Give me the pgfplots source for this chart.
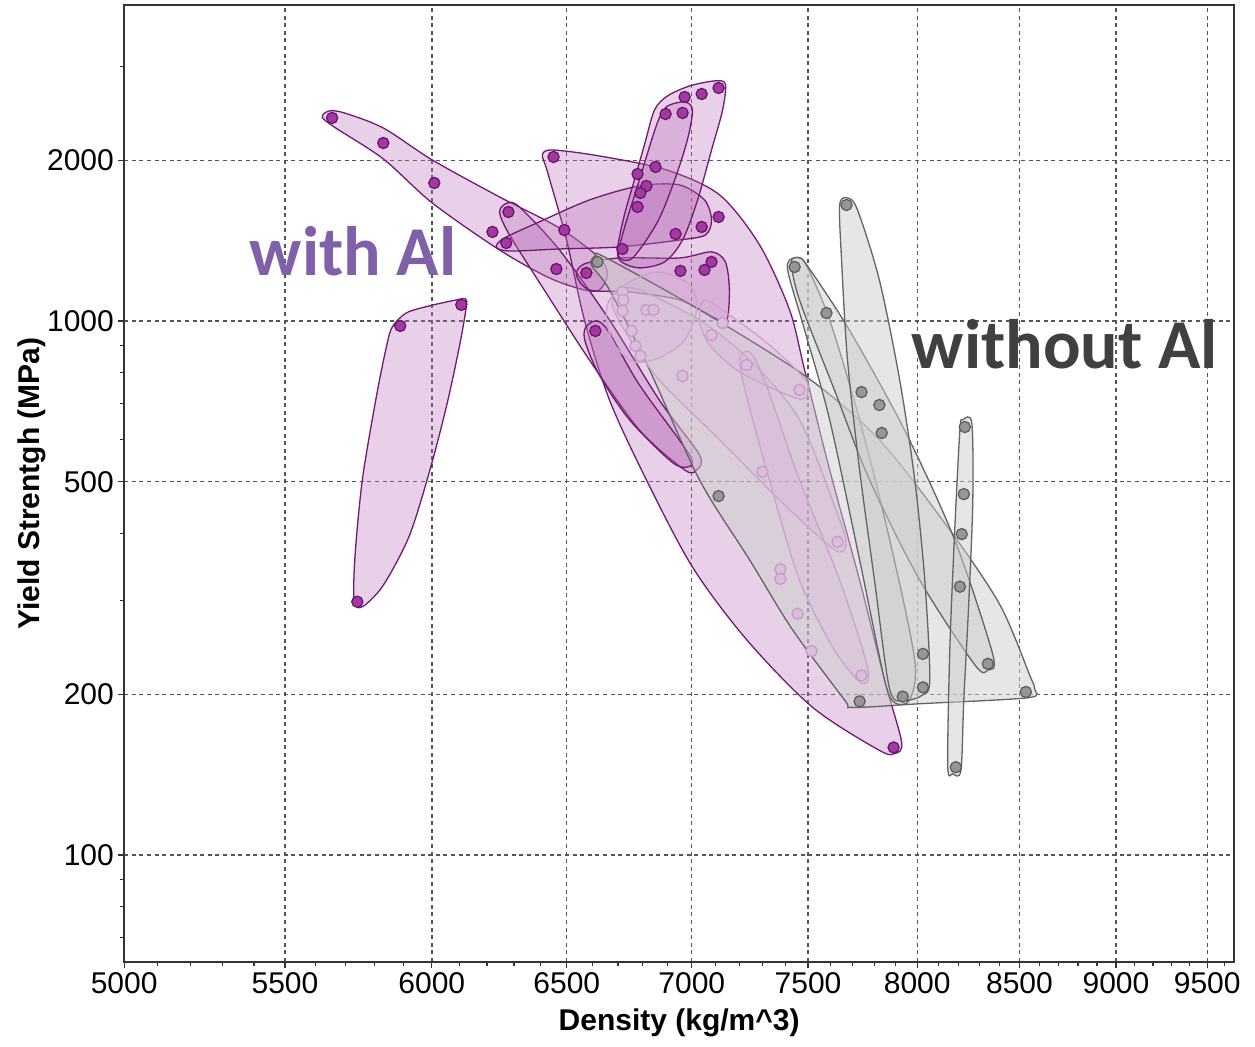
\documentclass[border=0pt]{standalone}
\usepackage{fontspec}
\setmainfont{Liberation Sans}
\newfontfamily\calibri{Carlito}
\usepackage{pgfplots}
\pgfplotsset{compat=1.18}
\definecolor{envpurple}{RGB}{185,110,185}
\definecolor{edgepurple}{RGB}{115,25,115}
\definecolor{ptpurple}{RGB}{165,55,165}
\definecolor{ptpurpleedge}{RGB}{100,20,100}
\definecolor{envgray}{RGB}{205,205,205}
\definecolor{edgegray}{RGB}{100,100,100}
\definecolor{ptgray}{RGB}{150,150,150}
\definecolor{ptgrayedge}{RGB}{90,90,90}
\definecolor{fadefill}{RGB}{215,175,215}
\definecolor{fadeedge}{RGB}{200,165,200}
\definecolor{fadept}{RGB}{222,188,222}
\definecolor{fadeptedge}{RGB}{195,155,195}
\definecolor{withcol}{RGB}{128,96,168}
\definecolor{withoutcol}{RGB}{64,64,64}
\definecolor{gridcol}{RGB}{85,85,85}
\begin{document}
\begin{tikzpicture}
\useasboundingbox (-62pt,-42pt) rectangle (565.5pt,481pt);
\begin{axis}[
  scale only axis, width=555pt, height=478.5pt,
  xmode=log, ymode=log,
  xmin=5000, xmax=9653, ymin=63.05, ymax=3906,
  axis line style={draw=black!80, line width=0.75pt},
  tick pos=left, tick align=outside,
  major tick length=3pt, minor tick length=2pt,
  every tick/.style={draw=black!80, line width=0.6pt},
  xtick={5000,5500,6000,6500,7000,7500,8000,8500,9000,9500},
  xticklabels={5000,5500,6000,6500,7000,7500,8000,8500,9000,9500},
  minor xtick={5100,5200,5300,5400,5600,5700,5800,5900,6100,6200,6300,6400,6600,6700,6800,6900,7100,7200,7300,7400,7600,7700,7800,7900,8100,8200,8300,8400,8600,8700,8800,8900,9100,9200,9300,9400,9600},
  ytick={100,200,500,1000,2000},
  yticklabels={100,200,500,1000,2000},
  minor ytick={70,80,90,300,400,600,700,800,900,3000},
  xmajorgrids, ymajorgrids,
  major grid style={draw=gridcol, line width=0.7pt, dash pattern=on 2pt off 1.8pt},
  ticklabel style={font=\fontsize{15}{18}\selectfont, inner sep=2pt},
  /pgf/number format/assume math mode=true,
  xlabel={\textbf{Density (kg/m\^{}3)}},
  ylabel={\textbf{Yield Strentgh (MPa)}},
  label style={font=\fontsize{15}{18}\selectfont},
  xlabel style={at={(axis description cs:0.5,-0.0721)}, anchor=base},
  ylabel style={at={(axis description cs:-0.0766,0.5)}, anchor=base},
  penv/.style={draw=edgepurple, line width=0.65pt, fill=envpurple, fill opacity=0.32, smooth cycle},
  genv/.style={draw=edgegray, line width=0.65pt, fill=envgray, fill opacity=0.5, smooth cycle},
  qenv/.style={draw=fadeedge, line width=0.65pt, fill=fadefill, fill opacity=0.2, smooth cycle},
]
% ---- purple envelopes (with Al)
\addplot[penv] coordinates {(5623,2410) (5646,2473) (5697,2452) (5830,2298) (6002,2002) (6246,1707) (6472,1493) (6627,1312) (6659,1219) (6627,1143) (6568,1143) (6433,1204) (6246,1358) (6002,1663) (5830,2011) (5663,2308)};
\addplot[penv] coordinates {(5861,974) (5910,1035) (5991,1067) (6088,1095) (6121,1100) (6124,1062) (6100,900) (6052,690) (5991,520) (5920,395) (5830,320) (5760,292) (5731,298) (5733,360) (5758,504) (5806,721) (5841,894)};
\addplot[penv] coordinates {(6407,2046) (6445,2090) (6627,2037) (6896,1918) (7116,1722) (7287,1388) (7418,1049) (7484,810) (7596,526) (7732,327) (7848,213) (7927,163) (7899,155) (7824,157) (7520,189) (7231,253) (7003,346) (6814,504) (6667,711) (6568,1004) (6499,1418) (6426,1901)};
\addplot[penv] coordinates {(6246,1600) (6275,1663) (6320,1635) (6472,1358) (6667,1004) (6867,711) (7032,561) (7020,526) (6970,526) (6786,625) (6588,845) (6414,1143) (6283,1449)};
\addplot[penv] coordinates {(6572,970) (6611,1000) (6659,962) (6786,759) (6991,561) (6982,533) (6916,545) (6746,653) (6627,792) (6572,913)};
\addplot[penv] coordinates {(6234,1376) (6264,1430) (6395,1533) (6588,1685) (6786,1790) (6949,1798) (7053,1685) (7082,1546) (7057,1449) (6949,1418) (6706,1376) (6472,1364) (6283,1352)};
\addplot[penv] coordinates {(6537,1219) (6568,1279) (6706,1312) (6949,1312) (7082,1347) (7141,1290) (7158,1143) (7146,1000) (7095,1013) (6949,1095) (6746,1133) (6588,1143)};
\addplot[penv] coordinates {(6698,1358) (6726,1580) (6766,1837) (6806,2136) (6847,2484) (6900,2639) (6991,2755) (7095,2815) (7141,2779) (7129,2484) (7082,2090) (7024,1685) (6962,1418) (6888,1290) (6786,1257) (6714,1290)};
\addplot[penv] coordinates {(6867,2400) (6900,2527) (6970,2571) (7003,2484) (6982,2183) (6929,1837) (6859,1533) (6758,1312) (6702,1324) (6726,1493) (6786,1837) (6835,2183)};
% ---- purple points
\addplot[only marks, mark=*, mark size=2.8pt, mark options={fill=ptpurple, draw=ptpurpleedge, line width=0.6pt}] coordinates {
(5656,2400) (5830,2154) (6009,1813) (6220,1468) (6279,1600) (6271,1400) (6460,1251) (6491,1480) (6449,2028) (6576,1230) (6611,958) (6718,1364) (6778,1885) (6814,1790) (6790,1737) (6778,1635) (6851,1943) (6892,2441) (6962,2452) (6970,2627) (7041,2661) (7112,2731) (6933,1455) (7041,1500) (7112,1566) (6953,1241) (7053,1246) (7082,1290) (5889,979) (6106,1072) (5741,298) (7890,159)};
% ---- grey envelopes (without Al)
\addplot[genv] coordinates {(6611,1324) (6647,1318) (7032,1049) (7493,786) (7824,599) (8156,406) (8402,294) (8552,217) (8578,204) (8542,197) (8012,192) (7700,189) (7664,195) (7431,264) (7244,357) (7032,504) (6827,810) (6667,1143) (6596,1273)};
\addplot[genv] coordinates {(7409,1251) (7440,1312) (7488,1279) (7596,1004) (7732,653) (7871,389) (7989,232) (7965,195) (7894,193) (7848,213) (7732,357) (7596,653) (7484,962)};
\addplot[genv] coordinates {(7426,1290) (7462,1312) (7497,1268) (7686,962) (7941,625) (8180,389) (8367,237) (8342,222) (8278,227) (8012,327) (7778,504) (7618,743) (7462,1095)};
\addplot[genv] coordinates {(7641,1649) (7677,1700) (7723,1614) (7824,1193) (7918,775) (7989,504) (8036,327) (8060,213) (8022,199) (7941,195) (7871,204) (7801,327) (7732,526) (7677,845) (7650,1301)};
\addplot[genv] coordinates {(8219,653) (8263,644) (8268,462) (8249,300) (8224,195) (8210,144) (8171,142) (8146,147) (8156,242) (8180,406) (8205,625)};
% ---- purple envelopes seen through the grey ones
\addplot[qenv] coordinates {(6667,1095) (6746,1183) (6867,1235) (6991,1168) (7020,1049) (6970,921) (6867,853) (6766,838) (6686,902) (6655,1004)};
\addplot[qenv] coordinates {(6698,1143) (6786,1143) (7032,1004) (7244,845) (7462,653) (7641,424) (7668,381) (7618,373) (7374,462) (7116,599) (6867,775) (6726,962) (6678,1072)};
\addplot[qenv] coordinates {(7053,1095) (7158,1026) (7330,902) (7488,775) (7488,718) (7418,724) (7201,803) (7074,902) (7032,1004)};
\addplot[qenv] coordinates {(7201,845) (7244,875) (7308,775) (7462,504) (7641,327) (7769,224) (7741,210) (7618,242) (7462,327) (7330,504) (7235,711)};
% ---- faded purple points
\addplot[only marks, mark=*, mark size=2.8pt, mark options={fill=fadept, draw=fadeptedge, line width=0.6pt}] coordinates {
(6718,1133) (6722,1095) (6718,1044) (6814,1049) (6843,1049) (6754,958) (6770,898) (6790,860) (6962,789) (7082,941) (7129,991) (7231,827) (7462,743) (7300,522) (7632,386) (7378,343) (7378,329) (7453,283) (7515,241) (7741,217)};
% ---- grey points
\addplot[only marks, mark=*, mark size=2.8pt, mark options={fill=ptgray, draw=ptgrayedge, line width=0.6pt}] coordinates {
(6619,1290) (7112,470) (7440,1262) (7582,1035) (7673,1649) (7741,736) (7824,696) (7834,617) (7732,194) (7932,198) (8027,238) (8027,206) (8229,633) (8224,474) (8214,399) (8205,318) (8185,146) (8342,228) (8532,202)};
% ---- annotations
\node[anchor=base, text=withcol, font=\calibri\bfseries\fontsize{35}{40}\selectfont] at (axis cs:5727,1219) {with Al};
\node[anchor=base, text=withoutcol, font=\calibri\bfseries\fontsize{35}{40}\selectfont] at (axis cs:8732,816) {without Al};
\end{axis}
\end{tikzpicture}
\end{document}
